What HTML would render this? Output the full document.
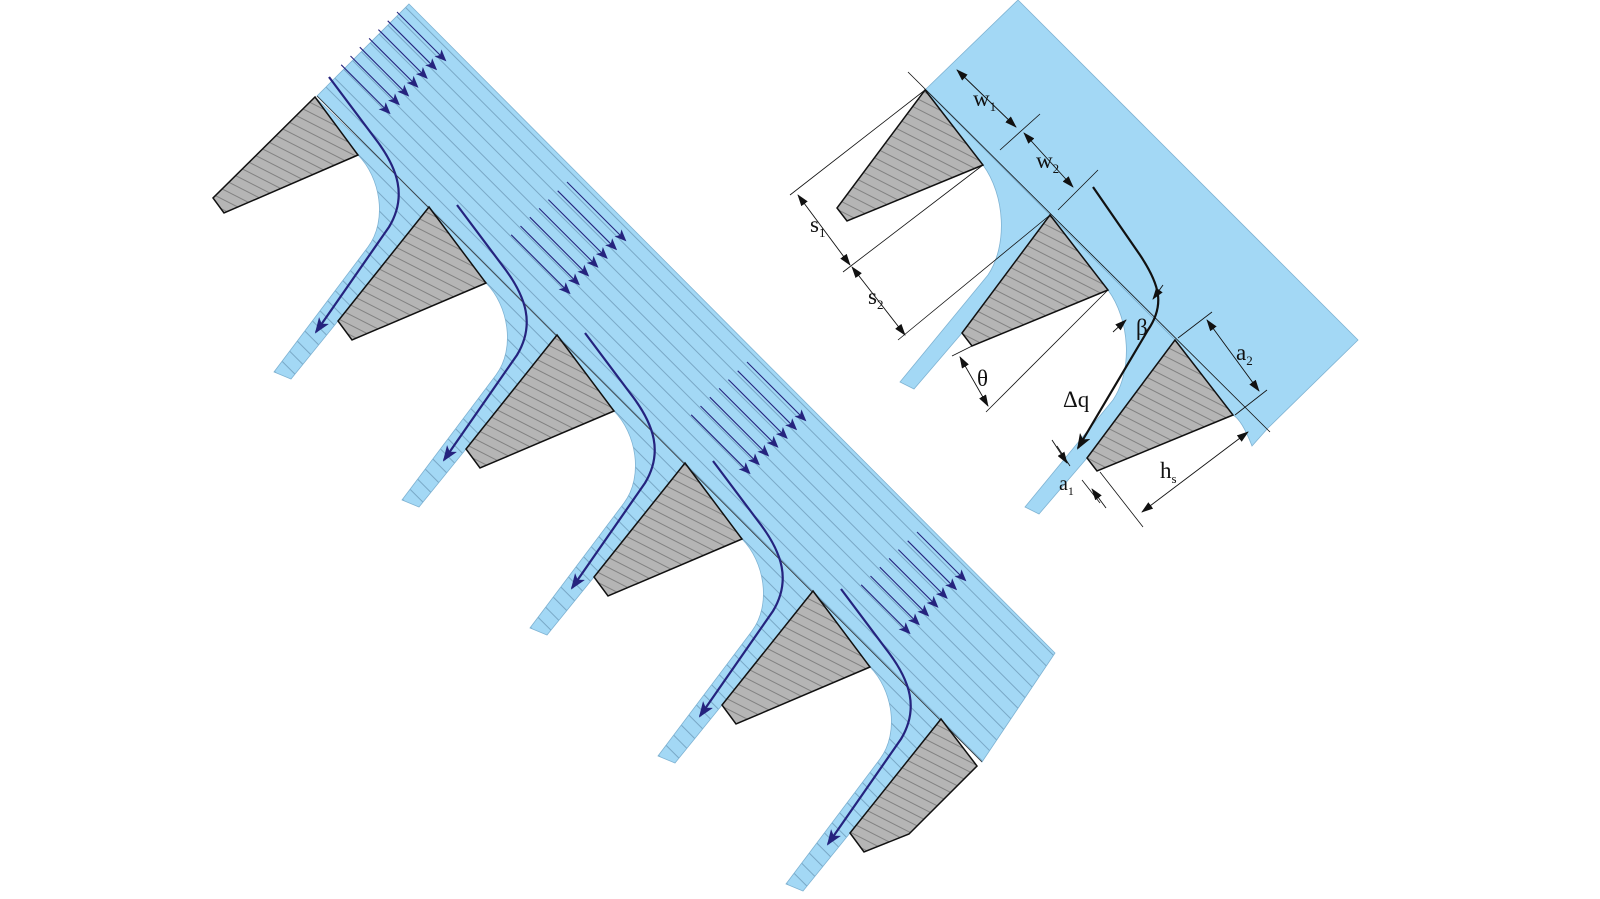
<!DOCTYPE html>
<html><head><meta charset="utf-8"><style>
html,body{margin:0;padding:0;background:#fff;}
svg{display:block;}
text{font-family:"Liberation Serif",serif;fill:#111;}
</style></head><body>
<svg width="1600" height="899" viewBox="0 0 1600 899" xmlns="http://www.w3.org/2000/svg">
<defs>
<pattern id="bh" patternUnits="userSpaceOnUse" width="10" height="12.5" patternTransform="rotate(45)">
<rect width="10" height="12.5" fill="#a3d8f5"/><path d="M0,6 H10" stroke="#6f9cba" stroke-width="0.8"/></pattern>
<pattern id="gh" patternUnits="userSpaceOnUse" width="10" height="9" patternTransform="rotate(27)">
<rect width="10" height="9" fill="#b5b5b5"/><path d="M0,4.5 H10" stroke="#6a6a6a" stroke-width="0.7"/></pattern>
<marker id="ab" markerWidth="12" markerHeight="10" refX="10" refY="5" orient="auto" markerUnits="userSpaceOnUse"><path d="M0,0 L12,5 L0,10 L3,5 Z" fill="#25237e"/></marker>
<marker id="ab2" markerWidth="16" markerHeight="12" refX="14" refY="6" orient="auto" markerUnits="userSpaceOnUse"><path d="M0,0 L16,6 L0,12 L4,6 Z" fill="#25237e"/></marker>
<marker id="ak" markerWidth="12" markerHeight="8" refX="11" refY="4" orient="auto-start-reverse" markerUnits="userSpaceOnUse"><path d="M0,0 L12,4 L0,8 Z" fill="#111"/></marker>
<marker id="ak2" markerWidth="16" markerHeight="12" refX="14" refY="6" orient="auto" markerUnits="userSpaceOnUse"><path d="M0,0 L16,6 L0,12 L4,6 Z" fill="#111"/></marker>
</defs>

<!-- LEFT DIAGRAM -->
<g fill="url(#bh)" stroke="#7fb3d3" stroke-width="0.8">
<polygon points="409,4 1055,653 982,762 317,96"/>
<path d="M315,97 L358,155 C380,177 388,220 368,247 L274,372 L291,379 L338,321 L429,207 Z"/>
<path d="M429,207 L486,283 C508,305 516,348 496,375 L402,500 L419,507 L466,449 L557,335 Z"/>
<path d="M557,335 L614,411 C636,433 644,476 624,503 L530,628 L547,635 L594,577 L685,463 Z"/>
<path d="M685,463 L742,539 C764,561 772,604 752,631 L658,756 L675,763 L722,705 L813,591 Z"/>
<path d="M813,591 L870,667 C892,689 900,732 880,759 L786,884 L803,891 L850,833 L941,719 Z"/>
</g>
<line x1="317" y1="96" x2="982" y2="762" stroke="#333" stroke-width="0.8"/>
<g fill="url(#gh)" stroke="#111" stroke-width="1.5" stroke-linejoin="miter">
<polygon points="315,97 358,155 224,213 213,198"/>
<polygon points="429,207 486,283 352,340 338,321"/>
<polygon points="557,335 614,411 480,468 466,449"/>
<polygon points="685,463 742,539 608,596 594,577"/>
<polygon points="813,591 870,667 736,724 722,705"/>
<polygon points="941,719 977,766 909,834 864,852 850,833"/>
</g>
<g fill="none" stroke="#25237e" stroke-width="2.2">
<path d="M329,77 L374,137 C399,169 407,197 389,227 L316,332" marker-end="url(#ab2)"/>
<path d="M457,205 L502,265 C527,297 535,325 517,355 L444,460" marker-end="url(#ab2)"/>
<path d="M585,333 L630,393 C655,425 663,453 645,483 L572,588" marker-end="url(#ab2)"/>
<path d="M713,461 L758,521 C783,553 791,581 773,611 L700,716" marker-end="url(#ab2)"/>
<path d="M841,589 L886,649 C911,681 919,709 901,739 L828,844" marker-end="url(#ab2)"/>
</g>
<g stroke="#25237e" stroke-width="1.1" marker-end="url(#ab)">
<line x1="397" y1="12" x2="445" y2="60"/><line x1="387.7" y1="20.8" x2="435.7" y2="68.8"/><line x1="378.4" y1="29.6" x2="426.4" y2="77.6"/><line x1="369.1" y1="38.4" x2="417.1" y2="86.4"/><line x1="359.8" y1="47.2" x2="407.8" y2="95.2"/><line x1="350.5" y1="56" x2="398.5" y2="104"/><line x1="341.2" y1="64.8" x2="389.2" y2="112.8"/>
<line x1="567" y1="182" x2="625" y2="240"/><line x1="557.7" y1="190.8" x2="615.7" y2="248.8"/><line x1="548.4" y1="199.6" x2="606.4" y2="257.6"/><line x1="539.1" y1="208.4" x2="597.1" y2="266.4"/><line x1="529.8" y1="217.2" x2="587.8" y2="275.2"/><line x1="520.5" y1="226" x2="578.5" y2="284"/><line x1="511.2" y1="234.8" x2="569.2" y2="292.8"/>
<line x1="747" y1="362" x2="805" y2="420"/><line x1="737.7" y1="370.8" x2="795.7" y2="428.8"/><line x1="728.4" y1="379.6" x2="786.4" y2="437.6"/><line x1="719.1" y1="388.4" x2="777.1" y2="446.4"/><line x1="709.8" y1="397.2" x2="767.8" y2="455.2"/><line x1="700.5" y1="406" x2="758.5" y2="464"/><line x1="691.2" y1="414.8" x2="749.2" y2="472.8"/>
<line x1="917" y1="532" x2="965" y2="580"/><line x1="907.7" y1="540.8" x2="955.7" y2="588.8"/><line x1="898.4" y1="549.6" x2="946.4" y2="597.6"/><line x1="889.1" y1="558.4" x2="937.1" y2="606.4"/><line x1="879.8" y1="567.2" x2="927.8" y2="615.2"/><line x1="870.5" y1="576" x2="918.5" y2="624"/><line x1="861.2" y1="584.8" x2="909.2" y2="632.8"/>
</g>

<!-- RIGHT DIAGRAM -->
<g fill="#a3d8f5" stroke="#7fb3d3" stroke-width="0.8">
<path d="M1018,0 L1358,340 L1268,428 L1252,446 Q1242,420 1233,415 L1175,340 L925,90 Z"/>
<path d="M925,90 L983,165 C1005,195 1008,245 988,275 L900,382 L914,389 L962,333 L1050,215 Z"/>
<path d="M1050,215 L1108,290 C1130,320 1133,370 1113,400 L1025,507 L1039,514 L1087,458 L1175,340 Z"/>
</g>
<g stroke="#111" stroke-width="0.8" fill="none">
<line x1="908" y1="72" x2="1270" y2="432"/>
<line x1="1000" y1="150" x2="1040" y2="114"/>
<line x1="1058" y1="210" x2="1098" y2="170"/>
<line x1="925" y1="90" x2="790" y2="195"/>
<line x1="983" y1="165" x2="843" y2="272"/>
<line x1="1050" y1="215" x2="898" y2="340"/>
<line x1="972" y1="346" x2="952" y2="356"/>
<line x1="1108" y1="290" x2="986" y2="412"/>
<line x1="1178" y1="338" x2="1212" y2="312"/>
<line x1="1235" y1="415" x2="1267" y2="390"/>
<line x1="1100" y1="472" x2="1143" y2="527"/>
<line x1="1057" y1="446" x2="1070" y2="466"/>
<line x1="1082" y1="480" x2="1100" y2="503"/>
</g>
<g fill="url(#gh)" stroke="#111" stroke-width="1.5">
<polygon points="925,90 983,165 847,221 837,208"/>
<polygon points="1050,215 1108,290 972,346 962,333"/>
<polygon points="1175,340 1233,415 1097,471 1087,458"/>
</g>
<path d="M1093,187 L1140,255 C1160,285 1165,305 1148,330 L1078,448" fill="none" stroke="#111" stroke-width="2.2" marker-end="url(#ak2)"/>
<g stroke="#111" stroke-width="0.9" marker-start="url(#ak)" marker-end="url(#ak)">
<line x1="957" y1="70" x2="1016" y2="127"/>
<line x1="1024" y1="133" x2="1073" y2="187"/>
<line x1="798" y1="195" x2="850" y2="265"/>
<line x1="852" y1="267" x2="905" y2="335"/>
<line x1="960" y1="357" x2="988" y2="406"/>
<line x1="1207" y1="320" x2="1259" y2="391"/>
<line x1="1142" y1="512" x2="1248" y2="432"/>
</g>
<g stroke="#111" stroke-width="0.9" marker-end="url(#ak)">
<line x1="1163" y1="285" x2="1153" y2="299"/>
<line x1="1113" y1="332" x2="1126" y2="320"/>
<line x1="1052" y1="440" x2="1067" y2="463"/>
<line x1="1106" y1="508" x2="1092" y2="489"/>
</g>
<g font-size="23">
<text x="973" y="106">w<tspan font-size="13" dy="5">1</tspan></text>
<text x="1036" y="168">w<tspan font-size="13" dy="5">2</tspan></text>
<text x="810" y="232">s<tspan font-size="13" dy="5">1</tspan></text>
<text x="868" y="304">s<tspan font-size="13" dy="5">2</tspan></text>
<text x="977" y="386">θ</text>
<text x="1136" y="335">β</text>
<text x="1063" y="407">Δq</text>
<text x="1236" y="360">a<tspan font-size="13" dy="5">2</tspan></text>
<text x="1160" y="478">h<tspan font-size="13" dy="5">s</tspan></text>
<text x="1059" y="490" font-size="20">a<tspan font-size="12" dy="5">1</tspan></text>
</g>
</svg>
</body></html>
